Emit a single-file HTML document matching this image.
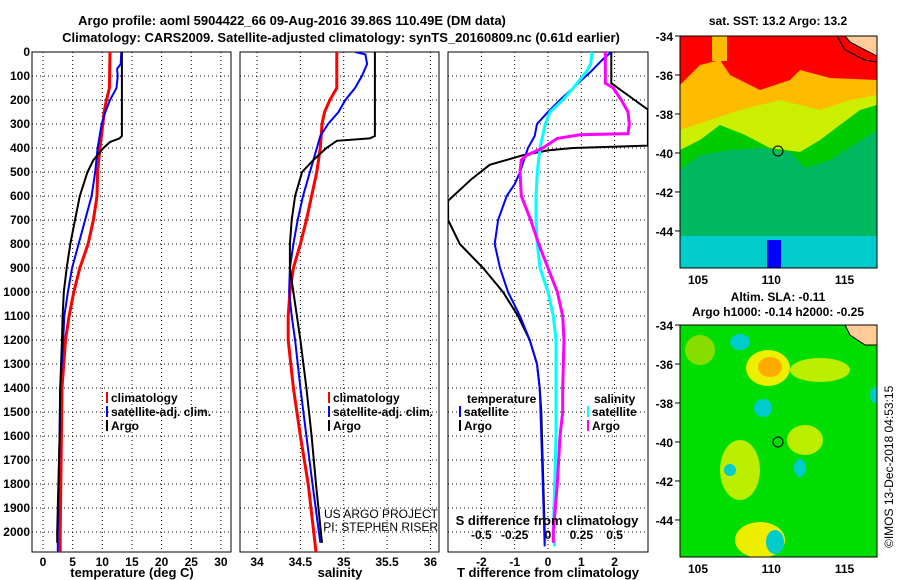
<!DOCTYPE html>
<html><head><meta charset="utf-8"><style>
body{margin:0;background:#fff;}
svg{display:block;font-family:"Liberation Sans",sans-serif;}
.t{font-weight:bold;font-size:13px;fill:#000;}
.tk{font-weight:bold;font-size:12px;fill:#000;}
.g{stroke:#000;stroke-width:1;stroke-dasharray:1 3;}
</style></head><body>
<svg id="c" width="900" height="580" viewBox="0 0 900 580">
<text class="t" x="292" y="25" text-anchor="middle">Argo profile: aoml 5904422_66 09-Aug-2016 39.86S 110.49E (DM data)</text>
<text class="t" x="341" y="42" text-anchor="middle">Climatology: CARS2009. Satellite-adjusted climatology: synTS_20160809.nc (0.61d earlier)</text>
<g id="plots"></g>
<g id="maps"></g>
</svg>
<script>
// ---- data ----
const depthsT_clim=[0,150,200,250,300,400,500,600,700,800,900,1000,1100,1200,1400,1600,2000,2083];
const temp_clim=[11.3,11.2,10.7,10.3,10.1,9.6,9.2,9.1,8.5,7.6,6.2,5.2,4.4,3.8,3.2,3.1,2.9,2.9];
const depthsT_sat=[0,50,70,100,150,200,250,300,400,500,600,700,800,900,1000,1100,1200,1400,1600,2000,2083];
const temp_sat=[13.2,13.1,12.5,12.6,12.4,11.3,10.5,9.9,9.2,8.8,8.2,7.1,6.0,4.9,4.2,3.6,3.4,2.9,2.8,2.5,2.5];
const depthsT_argo=[0,50,350,360,375,400,450,500,600,700,800,900,1000,1100,1200,1400,1600,2000,2045];
const temp_argo=[13.3,13.3,13.3,12.9,11.3,10.2,8.5,7.5,6.2,5.4,4.6,4.0,3.5,3.3,3.2,2.9,2.8,2.4,2.4];
const depthsS_clim=[0,150,200,250,300,400,500,600,700,800,900,1000,1100,1200,1400,1600,1800,2083];
const sal_clim=[34.92,34.92,34.84,34.78,34.75,34.73,34.69,34.63,34.57,34.50,34.42,34.38,34.36,34.36,34.42,34.50,34.59,34.68];
const depthsS_sat=[0,10,50,100,150,200,250,300,350,450,500,600,700,800,900,1000,1100,1200,1400,1600,1800,2045];
const sal_sat=[35.13,35.25,35.27,35.21,35.13,35.02,34.94,34.82,34.73,34.65,34.61,34.53,34.47,34.42,34.38,34.37,34.40,34.44,34.50,34.57,34.64,34.73];
const depthsS_argo=[0,350,360,370,400,450,500,600,700,800,900,1000,1100,1200,1400,1600,1800,2045];
const sal_argo=[35.36,35.36,35.30,34.92,34.80,34.65,34.52,34.44,34.40,34.38,34.38,34.42,34.46,34.50,34.57,34.63,34.68,34.75];
const depthsD_argoT=[0,100,130,150,200,240,300,390,400,410,430,470,530,620,700,800,900,1000,1100,1200,1300,1400,1500,2000,2045];
const dT_argo=[1.9,1.9,1.9,2.1,2.6,3.0,3.0,3.0,0.75,0,-0.75,-1.75,-2.3,-3.0,-3.0,-2.65,-1.95,-1.35,-0.9,-0.55,-0.33,-0.25,-0.2,-0.1,-0.1];
const depthsD_satT=[0,30,80,150,200,250,300,350,400,500,550,600,700,800,900,1000,1100,1200,1300,1400,1600,2060];
const dT_sat=[1.9,1.65,1.3,0.75,0.36,0,-0.33,-0.4,-0.6,-0.84,-1.0,-1.24,-1.5,-1.6,-1.44,-1.2,-0.84,-0.55,-0.33,-0.25,-0.2,-0.1];
const depthsD_satS=[0,50,80,150,200,250,300,400,500,600,700,800,900,1000,1100,1200,1400,1600,1800,2000,2060];
const dS_sat=[0.33,0.32,0.29,0.19,0.11,0.015,-0.02,-0.06,-0.08,-0.09,-0.09,-0.08,-0.06,0,0.04,0.06,0.06,0.06,0.05,0.04,0.05];
const depthsD_argoS=[0,130,150,200,250,300,340,345,360,400,430,450,500,600,700,800,900,1000,1100,1200,1400,1500,1600,1800,2000,2045];
const dS_argo=[0.43,0.43,0.49,0.55,0.6,0.61,0.6,0.24,0.07,-0.04,-0.16,-0.2,-0.21,-0.2,-0.13,-0.07,0,0.07,0.11,0.12,0.11,0.11,0.09,0.07,0.04,0.04];
const depthTicks=[0,100,200,300,400,500,600,700,800,900,1000,1100,1200,1300,1400,1500,1600,1700,1800,1900,2000];
const tempTicks=[0,5,10,15,20,25,30];
const salTicks=[34,34.5,35,35.5,36];
const dTTicks=[-2,-1,0,1,2];
const dSTicks=[-0.5,-0.25,0,0.25,0.5];
const dSTickLabels=["-0.5","-0.25","0","0.25","0.5"];
const latTicks=[-34,-36,-38,-40,-42,-44];
const lonTicks=[105,110,115];

const NS="http://www.w3.org/2000/svg";
const P=document.getElementById('plots');
function el(tag,attrs,parent,txt){const e=document.createElementNS(NS,tag);for(const k in attrs)e.setAttribute(k,attrs[k]);if(txt!==undefined)e.textContent=txt;(parent||P).appendChild(e);return e;}
const yD=d=>52+0.24*d;
const xT=t=>43+5.93*t;
const xS=s=>257+86.7*(s-34);
const xDT=v=>548+33.3*v;
const xDS=v=>548+133.3*v;
function clip(id,x0,x1){const cp=el('clipPath',{id:id});el('rect',{x:x0,y:52,width:x1-x0,height:500},cp);}
function line(xs,ds,fx,col,w,name,cl){
  const pts=xs.map((v,i)=>fx(v).toFixed(1)+','+yD(ds[i]).toFixed(1)).join(' ');
  const p=el('polyline',{points:pts,fill:'none',stroke:col,'stroke-width':w,'clip-path':'url(#'+cl+')'});
  
  
}
function panel(x0,x1,name,cl){
  clip(cl,x0,x1);
  const r=el('rect',{x:x0,y:52,width:x1-x0,height:500,fill:'none',stroke:'#000','stroke-width':1});
  
  
  depthTicks.forEach(d=>{if(d>0)el('line',{x1:x0,x2:x1,y1:yD(d),y2:yD(d),class:'g'});});
}
depthTicks.forEach(d=>{const t=el('text',{x:30,y:yD(d)+4,'text-anchor':'end',class:'tk'},P,String(d));

});
panel(32,231,'temperature-panel','c1');
tempTicks.forEach(v=>{el('line',{x1:xT(v),x2:xT(v),y1:52,y2:552,class:'g'});
const t=el('text',{x:xT(v),y:566,'text-anchor':'middle',class:'tk'},P,String(v));

});
line(temp_clim,depthsT_clim,xT,'#f00',3,'temp-climatology-line','c1');
line(temp_sat,depthsT_sat,xT,'#00f',2,'temp-satellite-line','c1');
line(temp_argo,depthsT_argo,xT,'#000',2,'temp-argo-line','c1');
panel(240,439,'salinity-panel','c2');
salTicks.forEach(v=>{el('line',{x1:xS(v),x2:xS(v),y1:52,y2:552,class:'g'});
const t=el('text',{x:xS(v),y:566,'text-anchor':'middle',class:'tk'},P,String(v));

});
line(sal_clim,depthsS_clim,xS,'#f00',3,'sal-climatology-line','c2');
line(sal_sat,depthsS_sat,xS,'#00f',2,'sal-satellite-line','c2');
line(sal_argo,depthsS_argo,xS,'#000',2,'sal-argo-line','c2');
panel(448,648,'difference-panel','c3');
dTTicks.forEach(v=>{el('line',{x1:xDT(v),x2:xDT(v),y1:52,y2:552,class:'g'});
const t=el('text',{x:xDT(v),y:566,'text-anchor':'middle',class:'tk'},P,String(v));

});
dSTicks.forEach((v,i)=>{const t=el('text',{x:xDS(v),y:539,'text-anchor':'middle',class:'tk'},P,dSTickLabels[i]);

});
line(dT_argo,depthsD_argoT,xDT,'#000',2,'dT-argo-line','c3');
line(dT_sat,depthsD_satT,xDT,'#00f',2,'dT-satellite-line','c3');
line(dS_sat,depthsD_satS,xDS,'#0ff',3,'dS-satellite-line','c3');
line(dS_argo,depthsD_argoS,xDS,'#f0f',3,'dS-argo-line','c3');
[[132,'temperature (deg C)','x-axis-title-temperature'],[340,'salinity','x-axis-title-salinity'],[548,'T difference from climatology','x-axis-title-dT']].forEach(a=>{
const t=el('text',{x:a[0],y:577,'text-anchor':'middle',class:'t'},P,a[1]);

});
const st=el('text',{x:547,y:525,'text-anchor':'middle',class:'t'},P,'S difference from climatology');


function leg(x,y,col,txt,name){el('rect',{x:x,y:y-10,width:2,height:11,fill:col});
const t=el('text',{x:x+5,y:y,class:'tk'},P,txt);

}
leg(106,402,'#f00','climatology','legend-climatology');
leg(106,416,'#00f','satellite-adj. clim.','legend-satellite');
leg(106,430,'#000','Argo','legend-argo');
leg(328,402,'#f00','climatology','legend2-climatology');
leg(328,416,'#00f','satellite-adj. clim.','legend2-satellite');
leg(328,430,'#000','Argo','legend2-argo');
el('text',{x:467,y:403,class:'tk'},P,'temperature');
leg(459,416,'#00f','satellite','legend-dT-satellite');
leg(459,430,'#000','Argo','legend-dT-argo');
el('text',{x:594,y:403,class:'tk'},P,'salinity');
leg(587,416,'#0ff','satellite','legend-dS-satellite');
leg(587,430,'#f0f','Argo','legend-dS-argo');
el('text',{x:438,y:518,'font-size':'12','text-anchor':'end'},P,'US ARGO PROJECT');
el('text',{x:438,y:531,'font-size':'12','text-anchor':'end'},P,'PI: STEPHEN RISER');

const M=document.getElementById('maps');
function map(y0,y1,id){
  const x0=680,x1=877;
  const cp=el('clipPath',{id:id},M);el('rect',{x:x0,y:y0,width:x1-x0,height:y1-y0},cp);
  const g=el('g',{'clip-path':'url(#'+id+')'},M);
  
  
  return {g};
}
let m=map(36,268,'sst-map');
let g=m.g;
el('rect',{x:680,y:36,width:197,height:232,fill:'#00cccc'},g);
el('rect',{x:680,y:36,width:197,height:200,fill:'#00b860'},g);
el('path',{d:'M680 170 L700 155 L730 150 L760 148 L790 152 L805 168 L830 160 L877 130 L877 36 L680 36Z',fill:'#00cc00'},g);
el('path',{d:'M680 150 L700 140 L720 125 L745 135 L770 148 L800 152 L820 140 L860 110 L877 105 L877 36 L680 36Z',fill:'#ccee00'},g);
el('path',{d:'M680 130 L710 120 L740 110 L780 100 L820 110 L850 100 L877 95 L877 36 L680 36Z',fill:'#ffbb00'},g);
el('path',{d:'M680 85 L690 75 L700 65 L720 60 L730 75 L760 90 L790 80 L800 70 L830 78 L877 80 L877 36 L680 36Z',fill:'#f00'},g);
el('rect',{x:712,y:36,width:15,height:25,fill:'#ffbb00'},g);
el('rect',{x:767,y:240,width:14,height:28,fill:'#0000ff'},g);
el('path',{d:'M845 36 L877 36 L877 56 L865 50 L850 42Z',fill:'#ffcc99',stroke:'#000','stroke-width':1},g);
el('path',{d:'M837 36 L845 50 L865 60 L877 62',fill:'none',stroke:'#000','stroke-width':1},g);
el('circle',{cx:778,cy:151,r:5,fill:'none',stroke:'#000'},M);
el('rect',{x:680,y:36,width:197,height:232,fill:'none',stroke:'#000'},M);
m=map(325,557,'sla-map');g=m.g;
el('rect',{x:680,y:325,width:197,height:232,fill:'#00dd00'},g);
[[768,368,22,18,'#eeee00'],[770,367,12,10,'#ffaa00'],[820,370,30,12,'#bbee00'],[740,470,20,30,'#bbee00'],[760,540,25,18,'#eeee00'],[805,440,18,15,'#bbee00'],[700,350,15,15,'#88dd00']].forEach(b=>el('ellipse',{cx:b[0],cy:b[1],rx:b[2],ry:b[3],fill:b[4]},g));
[[740,342,10,8],[763,408,9,9],[800,468,6,9],[775,542,9,12],[875,395,5,8],[730,470,6,6]].forEach(b=>el('ellipse',{cx:b[0],cy:b[1],rx:b[2],ry:b[3],fill:'#00cccc'},g));
el('path',{d:'M845 325 L877 325 L877 345 L865 345 L850 335Z',fill:'#ffcc99',stroke:'#000'},g);
el('circle',{cx:778,cy:442,r:5,fill:'none',stroke:'#000'},M);
el('rect',{x:680,y:325,width:197,height:232,fill:'none',stroke:'#000'},M);
[[36,232],[325,232]].forEach(([y0,h])=>{
 latTicks.forEach(la=>{const y=y0+(-34-la)*(h/11.9);
 el('line',{x1:675,x2:680,y1:y,y2:y,stroke:'#000'},M);
 const t=el('text',{x:673,y:y+5,'text-anchor':'end',class:'tk'},M,String(la));
 
 });
 lonTicks.forEach(lo=>{const x=698+14.65*(lo-105);
 const t=el('text',{x:x,y:y0+h+16,'text-anchor':'middle',class:'tk'},M,String(lo));
 
 });
});
el('text',{x:778,y:25,'text-anchor':'middle',class:'tk'},M,'sat. SST: 13.2 Argo: 13.2');
el('text',{x:778,y:301,'text-anchor':'middle',class:'tk'},M,'Altim. SLA: -0.11');
el('text',{x:778,y:316,'text-anchor':'middle',class:'tk'},M,'Argo h1000: -0.14 h2000: -0.25');
el('text',{x:893,y:548,transform:'rotate(-90 893 548)','font-size':'12'},M,'©IMOS 13-Dec-2018 04:53:15');
</script>
</body></html>
